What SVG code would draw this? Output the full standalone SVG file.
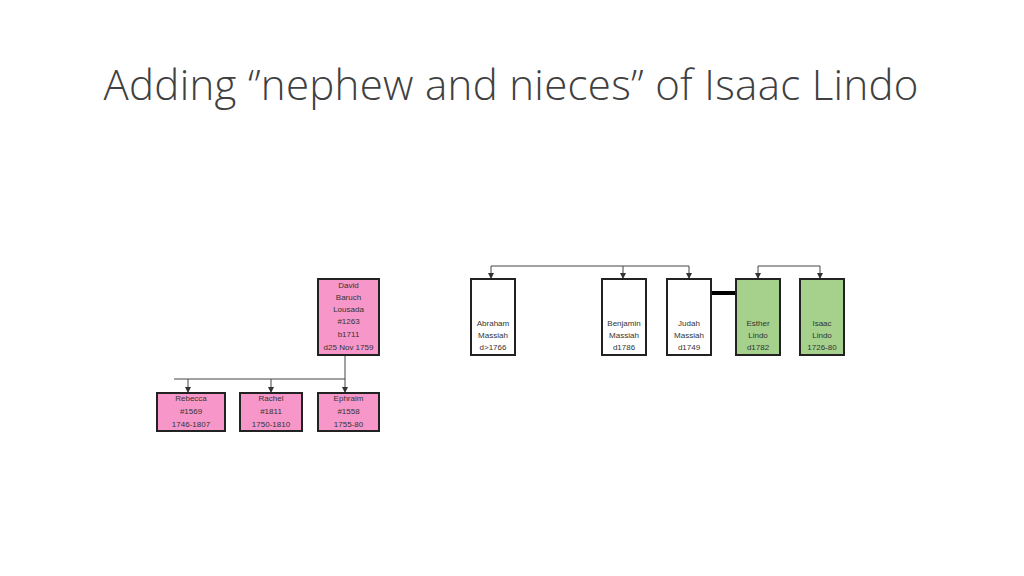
<svg xmlns="http://www.w3.org/2000/svg" width="1024" height="576" viewBox="0 0 1024 576">
<style>
.b{stroke:#222;stroke-width:2}
.p{fill:#f797c9}.w{fill:#fff}.g{fill:#a6d18c}
.t{font-family:"Liberation Sans",Arial,sans-serif;font-size:8px;fill:#333;text-anchor:middle}
.c{stroke:#444;stroke-width:1;fill:none}
</style>
<defs><marker id="a" markerWidth="6" markerHeight="6" refX="5" refY="3" orient="auto" markerUnits="userSpaceOnUse"><path d="M0,0 L6,3 L0,6z" fill="#333"/></marker></defs>
<rect width="1024" height="576" fill="#fff"/>
<text x="511" y="100" font-family="'Open Sans','Liberation Sans',sans-serif" font-weight="300" font-size="42" textLength="815" fill="#404040" text-anchor="middle">Adding ‘’nephew and nieces’’ of Isaac Lindo</text>
<g id="connectors">
<path class="c" d="M345,355 V392" marker-end="url(#a)" stroke="#999"/>
<path class="c" d="M174,379 H345"/>
<path class="c" d="M188,379 V392" marker-end="url(#a)"/>
<path class="c" d="M271,379 V392" marker-end="url(#a)"/>
<path class="c" d="M491,266 H689"/>
<path class="c" d="M491,266 V278" marker-end="url(#a)"/>
<path class="c" d="M623,266 V278" marker-end="url(#a)"/>
<path class="c" d="M689,266 V278" marker-end="url(#a)"/>
<path class="c" d="M758,266 H820"/>
<path class="c" d="M758,266 V278" marker-end="url(#a)"/>
<path class="c" d="M820,266 V278" marker-end="url(#a)"/>
<path d="M711,293 H736" stroke="#000" stroke-width="4"/>
</g>
<g id="david"><rect class="b p" x="318" y="279" width="61" height="76"/><text class="t" x="348.5" y="288">David</text><text class="t" x="348.5" y="300">Baruch</text><text class="t" x="348.5" y="312">Lousada</text><text class="t" x="348.5" y="324">#1263</text><text class="t" x="348.5" y="337">b1711</text><text class="t" x="348.5" y="350">d25 Nov 1759</text></g>
<g id="rebecca"><rect class="b p" x="157" y="393" width="68" height="38"/><text class="t" x="191" y="401">Rebecca</text><text class="t" x="191" y="414">#1569</text><text class="t" x="191" y="427">1746-1807</text></g>
<g id="rachel"><rect class="b p" x="240" y="393" width="62" height="38"/><text class="t" x="271" y="401">Rachel</text><text class="t" x="271" y="414">#1811</text><text class="t" x="271" y="427">1750-1810</text></g>
<g id="ephraim"><rect class="b p" x="318" y="393" width="61" height="38"/><text class="t" x="348.5" y="401">Ephraim</text><text class="t" x="348.5" y="414">#1558</text><text class="t" x="348.5" y="427">1755-80</text></g>
<g id="abraham"><rect class="b w" x="471" y="279" width="44" height="76"/><text class="t" x="493" y="326">Abraham</text><text class="t" x="493" y="338">Massiah</text><text class="t" x="493" y="350">d&gt;1766</text></g>
<g id="benjamin"><rect class="b w" x="602" y="279" width="44" height="76"/><text class="t" x="624" y="326">Benjamin</text><text class="t" x="624" y="338">Massiah</text><text class="t" x="624" y="350">d1786</text></g>
<g id="judah"><rect class="b w" x="667" y="279" width="44" height="76"/><text class="t" x="689" y="326">Judah</text><text class="t" x="689" y="338">Massiah</text><text class="t" x="689" y="350">d1749</text></g>
<g id="esther"><rect class="b g" x="736" y="279" width="44" height="76"/><text class="t" x="758" y="326">Esther</text><text class="t" x="758" y="338">Lindo</text><text class="t" x="758" y="350">d1782</text></g>
<g id="isaac"><rect class="b g" x="800" y="279" width="44" height="76"/><text class="t" x="822" y="326">Isaac</text><text class="t" x="822" y="338">Lindo</text><text class="t" x="822" y="350">1726-80</text></g>
</svg>
